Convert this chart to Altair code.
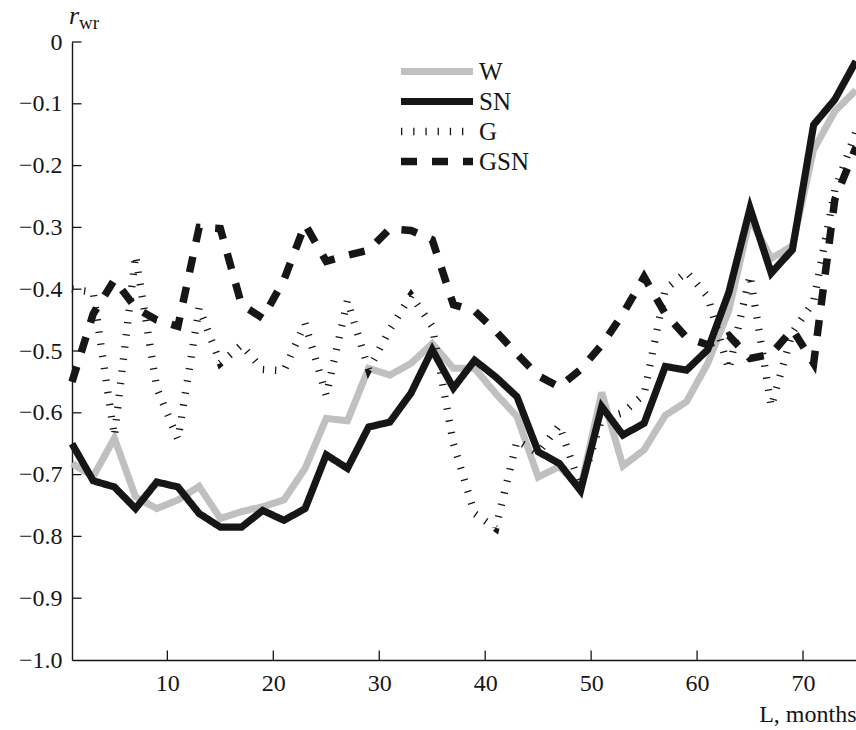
import altair as alt
import pandas as pd

# ---- data ----
L = list(range(1, 76, 2))
W = [-0.682, -0.703, -0.641, -0.736, -0.755, -0.741, -0.719, -0.771, -0.760, -0.752,
     -0.741, -0.690, -0.609, -0.613, -0.528, -0.539, -0.520, -0.488, -0.528, -0.528,
     -0.569, -0.606, -0.704, -0.687, -0.722, -0.567, -0.686, -0.660, -0.604, -0.582,
     -0.520, -0.434, -0.285, -0.350, -0.330, -0.174, -0.112, -0.078]
SN = [-0.650, -0.710, -0.720, -0.755, -0.712, -0.720, -0.763, -0.785, -0.785, -0.758,
      -0.774, -0.755, -0.668, -0.690, -0.623, -0.615, -0.568, -0.498, -0.560, -0.515,
      -0.542, -0.574, -0.663, -0.682, -0.726, -0.590, -0.636, -0.617, -0.525, -0.531,
      -0.498, -0.405, -0.269, -0.374, -0.336, -0.134, -0.093, -0.031]
G = [-0.400, -0.405, -0.638, -0.345, -0.560, -0.643, -0.430, -0.520, -0.490, -0.530,
     -0.532, -0.455, -0.572, -0.418, -0.530, -0.465, -0.410, -0.460, -0.650, -0.763,
     -0.787, -0.645, -0.665, -0.620, -0.720, -0.610, -0.600, -0.570, -0.400, -0.372,
     -0.412, -0.530, -0.377, -0.590, -0.470, -0.420, -0.240, -0.145]
GSN = [-0.550, -0.440, -0.385, -0.430, -0.450, -0.460, -0.300, -0.302, -0.425, -0.447,
       -0.385, -0.295, -0.355, -0.345, -0.337, -0.302, -0.305, -0.320, -0.425, -0.435,
       -0.468, -0.505, -0.540, -0.558, -0.530, -0.490, -0.440, -0.380, -0.440, -0.478,
       -0.490, -0.475, -0.512, -0.505, -0.465, -0.520, -0.255, -0.170]
series_names = ["W", "SN", "G", "GSN"]
x_ticks = [10, 20, 30, 40, 50, 60, 70]
y_ticks = [0, -0.1, -0.2, -0.3, -0.4, -0.5, -0.6, -0.7, -0.8, -0.9, -1.0]

rows = []
for name, vals in zip(series_names, [W, SN, G, GSN]):
    for l, v in zip(L, vals):
        rows.append({"L": l, "r": v, "series": name})
df = pd.DataFrame(rows)

FONT = "Liberation Serif"
INK = "#161616"

x_scale = alt.Scale(domain=[1, 75], nice=False, zero=False)
y_scale = alt.Scale(domain=[-1, 0], nice=False, zero=False)
color_scale = alt.Scale(domain=series_names, range=["#bfc0bf", INK, INK, INK])
dash_scale = alt.Scale(domain=series_names, range=[[1, 0], [1, 0], [1.3, 10.9], [16, 15]])
width_scale = alt.Scale(domain=series_names, range=[7, 7.5, 5, 6])

legend = alt.Legend(
    orient="none", legendX=325, legendY=17, title=None,
    symbolType="stroke", symbolSize=5184, clipHeight=25,
    labelFont=FONT, labelFontSize=25, labelColor=INK, labelOffset=2,
    padding=0, rowPadding=4,
)

x_axis = alt.Axis(
    values=x_ticks, ticks=False, labelPadding=11, grid=False,
    title="L, months", titleX=784, titleY=61.5, titleAlign="right",
    titleBaseline="alphabetic", titleFont=FONT, titleFontSize=24,
    titleFontWeight="normal", titleColor=INK,
)
y_axis = alt.Axis(
    values=y_ticks, ticks=False, labelPadding=10, grid=False,
    labelExpr="datum.value == 0 ? '0' : '\u2212' + format(abs(datum.value), '.1f')",
)


def line_layer(name):
    enc = dict(
        x=alt.X("L:Q", scale=x_scale, axis=x_axis),
        y=alt.Y("r:Q", scale=y_scale, axis=y_axis, title=None),
        color=alt.Color("series:N", scale=color_scale, legend=legend),
        strokeDash=alt.StrokeDash("series:N", scale=dash_scale, legend=legend),
        strokeWidth=alt.StrokeWidth("series:N", scale=width_scale, legend=legend),
    )
    return (
        alt.Chart(df)
        .transform_filter(alt.datum.series == name)
        .mark_line(strokeCap="butt", strokeJoin="miter")
        .encode(**enc)
    )


lines = [line_layer(n) for n in series_names]

xt = alt.Chart(pd.DataFrame({"L": x_ticks})).mark_rule(color=INK, strokeWidth=1.3).encode(
    x=alt.X("L:Q", scale=x_scale, axis=x_axis), y=alt.value(618), y2=alt.value(608.5)
)
yt = alt.Chart(pd.DataFrame({"r": y_ticks[:-1]})).mark_rule(color=INK, strokeWidth=1.3).encode(
    y=alt.Y("r:Q", scale=y_scale, axis=y_axis, title=None), x=alt.value(0), x2=alt.value(9.5)
)

title_r = alt.Chart(pd.DataFrame({"t": ["r"]})).mark_text(
    font=FONT, fontSize=26, fontStyle="italic", align="left", baseline="alphabetic", color=INK
).encode(text="t:N", x=alt.value(-3), y=alt.value(-18))
title_sub = alt.Chart(pd.DataFrame({"t": ["wr"]})).mark_text(
    font=FONT, fontSize=19, align="left", baseline="alphabetic", color=INK
).encode(text="t:N", x=alt.value(7), y=alt.value(-13.5))

chart = (
    alt.layer(*lines, xt, yt, title_r, title_sub)
    .properties(
        width=784, height=618,
        autosize=alt.AutoSizeParams(type="none"),
        padding={"left": 72, "top": 42, "right": 0, "bottom": 70},
        background="white",
    )
    .configure_view(stroke="transparent")
    .configure_axis(
        domainColor=INK, domainWidth=1.4,
        labelFont=FONT, labelFontSize=24, labelColor=INK,
    )
)

chart.save("out.html", embed_options={"renderer": "svg", "actions": False})
